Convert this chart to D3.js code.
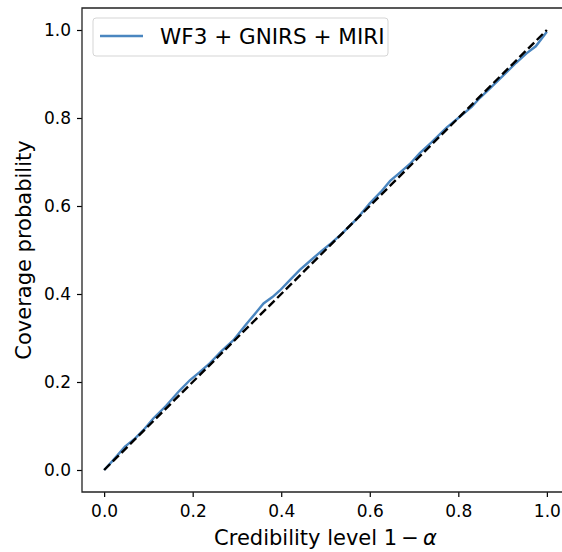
<!DOCTYPE html>
<html>
<head>
<meta charset="utf-8">
<script src="https://cdn.jsdelivr.net/npm/d3@7"></script>
<style>
  html, body { margin: 0; padding: 0; background: #fff; overflow: hidden; }
  svg { display: block; }
  text { font-family: "DejaVu Sans", sans-serif; fill: #000; }
</style>
</head>
<body>
<div id="chart-area"></div>
<script>
// credibility level (x) and empirical coverage (y)
var credibility = [0, 0.02, 0.047, 0.07, 0.089, 0.111, 0.14, 0.17, 0.194, 0.215, 0.239, 0.265, 0.292, 0.32, 0.345, 0.36, 0.38, 0.397, 0.42, 0.442, 0.465, 0.49, 0.51, 0.54, 0.57, 0.6, 0.625, 0.646, 0.668, 0.69, 0.713, 0.74, 0.7735, 0.8, 0.83, 0.849, 0.871, 0.9, 0.93, 0.954, 0.975, 1.0];
var coverage    = [0, 0.022, 0.053, 0.072, 0.091, 0.117, 0.146, 0.18, 0.2045, 0.222, 0.243, 0.27, 0.295, 0.33, 0.36, 0.3785, 0.393, 0.408, 0.432, 0.455, 0.475, 0.497, 0.513, 0.54, 0.57, 0.606, 0.632, 0.657, 0.676, 0.695, 0.72, 0.745, 0.778, 0.8, 0.825, 0.846, 0.867, 0.895, 0.925, 0.947, 0.963, 0.996];
var diagonal = [0, 1];
var xTicks = [0.0, 0.2, 0.4, 0.6, 0.8, 1.0];
var yTicks = [0.0, 0.2, 0.4, 0.6, 0.8, 1.0];
var seriesName = "WF3 + GNIRS + MIRI";

var margin = {left: 82, right: -7, top: 8, bottom: 60};
var W = 562, H = 552;
var width = W - margin.left - margin.right,
    height = H - margin.top - margin.bottom;

var svg = d3.select("#chart-area")
  .append("svg")
  .attr("width", W)
  .attr("height", H);

var g = svg.append("g")
  .attr("transform", "translate(" + margin.left + "," + margin.top + ")");

// 5% padding like matplotlib
var x = d3.scaleLinear().domain([-0.05, 1.05]).range([0, width]);
var y = d3.scaleLinear().domain([-0.05, 1.05]).range([height, 0]);

// x axis
var xAxis = g.append("g")
  .attr("transform", "translate(0," + height + ")")
  .call(d3.axisBottom(x).tickValues(xTicks).tickFormat(d3.format(".1f")).tickSize(5).tickPadding(8));
xAxis.selectAll("text").style("font-size", "17px");

// y axis
var yAxis = g.append("g")
  .call(d3.axisLeft(y).tickValues(yTicks).tickFormat(d3.format(".1f")).tickSize(5).tickPadding(6));
yAxis.selectAll("text").style("font-size", "17px");

g.selectAll(".domain").remove();
g.selectAll(".tick line").attr("stroke", "#000").attr("stroke-width", 1.2);

// spines (right one falls outside the canvas)
g.append("path")
  .attr("d", "M" + width + ",0H0V" + height + "H" + width)
  .attr("fill", "none")
  .attr("stroke", "#222")
  .attr("stroke-width", 1.3);

// coverage line
var line = d3.line()
  .x(function(d, i) { return x(credibility[i]); })
  .y(function(d) { return y(d); });

g.append("path")
  .datum(coverage)
  .attr("fill", "none")
  .attr("stroke", "#4a86c0")
  .attr("stroke-width", 2.4)
  .attr("d", line);

// ideal diagonal
g.append("path")
  .datum(diagonal)
  .attr("fill", "none")
  .attr("stroke", "#000")
  .attr("stroke-width", 2.4)
  .attr("stroke-dasharray", "8.5,3.7")
  .attr("d", d3.line().x(function(d) { return x(d); }).y(function(d) { return y(d); }));

// legend
var leg = g.append("g").attr("transform", "translate(11,10)");
leg.append("rect")
  .attr("width", 295).attr("height", 38)
  .attr("rx", 3)
  .attr("fill", "#fff")
  .attr("fill-opacity", 0.8)
  .attr("stroke", "#d5d5d5");
leg.append("line")
  .attr("x1", 7).attr("x2", 50)
  .attr("y1", 18).attr("y2", 18)
  .attr("stroke", "#4a86c0")
  .attr("stroke-width", 2.4);
leg.append("text")
  .attr("x", 67).attr("y", 26)
  .style("font-size", "21.5px")
  .text(seriesName);

// axis labels
svg.append("text")
  .attr("x", margin.left + width / 2).attr("y", 545)
  .attr("text-anchor", "middle")
  .style("font-size", "21px")
  .html("Credibility level 1\u2009\u2212\u2009<tspan font-style='italic'>\u03b1</tspan>");

svg.append("text")
  .attr("transform", "translate(31," + (margin.top + height / 2) + ") rotate(-90)")
  .attr("text-anchor", "middle")
  .style("font-size", "21px")
  .text("Coverage probability");
</script>
</body>
</html>
